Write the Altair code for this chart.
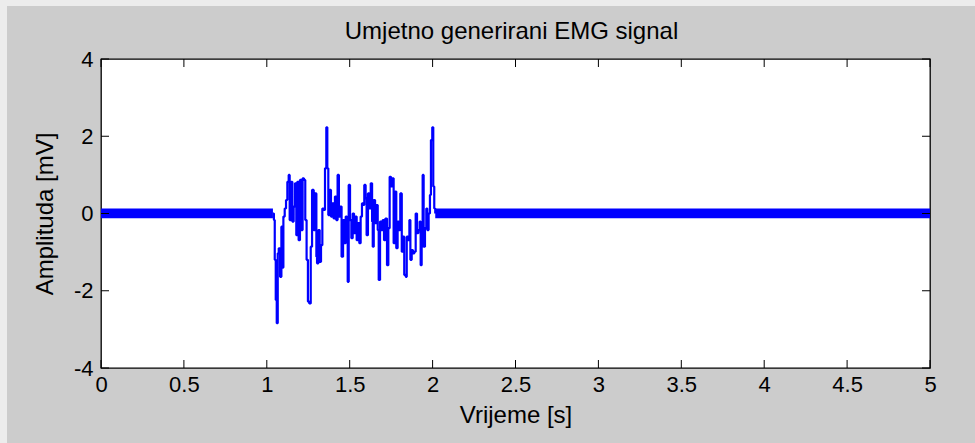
import altair as alt
import pandas as pd

# ---- data ----
title_text = "Umjetno generirani EMG signal"
x_title = "Vrijeme [s]"
y_title = "Amplituda [mV]"

x_ticks = [0, 0.5, 1, 1.5, 2, 2.5, 3, 3.5, 4, 4.5, 5]
y_ticks = [-4, -2, 0, 2, 4]

# resting (noise) segments: start, end, envelope
rest_start = [0.0, 2.016]
rest_end = [1.037, 5.0]
rest_lo = [-0.12, -0.12]
rest_hi = [0.13, 0.13]

# burst samples
burst_t = [1.037, 1.043, 1.048, 1.054, 1.060, 1.066, 1.072, 1.080, 1.088, 1.094,
           1.100, 1.108, 1.116, 1.124, 1.132, 1.138, 1.146, 1.154, 1.162, 1.170,
           1.178, 1.184, 1.192, 1.200, 1.208, 1.216, 1.224, 1.232, 1.240, 1.248,
           1.256, 1.265, 1.273, 1.283, 1.291, 1.299, 1.303, 1.311, 1.319, 1.327,
           1.335, 1.343, 1.351, 1.359, 1.365, 1.371, 1.379, 1.387, 1.395, 1.403,
           1.411, 1.419, 1.427, 1.435, 1.443, 1.451, 1.460, 1.468, 1.476, 1.484,
           1.488, 1.494, 1.502, 1.510, 1.518, 1.526, 1.534, 1.542, 1.550, 1.558,
           1.566, 1.574, 1.582, 1.588, 1.596, 1.602, 1.610, 1.618, 1.627, 1.635,
           1.639, 1.645, 1.653, 1.661, 1.669, 1.675, 1.683, 1.691, 1.699, 1.707,
           1.715, 1.725, 1.733, 1.741, 1.749, 1.757, 1.765, 1.773, 1.781, 1.789,
           1.797, 1.805, 1.814, 1.821, 1.829, 1.838, 1.844, 1.852, 1.860, 1.866,
           1.874, 1.882, 1.890, 1.898, 1.906, 1.914, 1.922, 1.928, 1.934, 1.940,
           1.946, 1.954, 1.962, 1.968, 1.976, 1.984, 1.990, 1.998, 2.004, 2.010,
           2.016]
burst_v = [0.0, -0.17, -1.2, -2.24, -2.84, -1.03, -0.9, -1.64, -0.34, -1.4,
           -0.08, 0.13, 0.35, 0.82, 1.0, -0.17, 0.82, -0.21, 0.18, 0.78,
           -0.56, 0.82, -0.69, 0.87, -0.43, 0.91, 0.87, -0.17, -1.2, -2.28,
           -2.33, -0.86, 0.61, -0.43, 0.52, -1.12, -1.29, -0.43, -1.25, -0.82,
           0.13, 0.09, 1.17, 2.23, 1.17, -0.04, 0.61, -0.08, 0.26, -0.13,
           0.44, -0.17, 1.0, -0.08, 0.18, -1.12, -0.17, -0.77, -0.08, -0.56,
           -1.77, 0.74, -0.17, -0.64, 0.0, -0.51, -0.08, -0.69, -0.25, -0.77,
           -0.08, 0.26, 0.22, 0.74, 0.39, -0.56, 0.52, 0.13, 0.78, -0.21,
           -0.86, 0.35, -0.25, 0.22, -0.43, -1.72, -0.21, -0.43, -0.17, -0.69,
           -0.13, -1.34, -0.38, 0.95, 0.70, 0.91, -0.77, 0.57, -0.90, -0.21,
           -0.43, 0.52, -0.99, -0.60, -1.59, -1.64, -0.60, -0.69, -0.17, -1.20,
           -0.95, -1.03, -0.99, 0.0, -0.51, -0.43, -0.21, -1.34, -0.86, 1.0,
           -0.86, -0.38, 0.13, -0.43, 0.0, 0.48, 1.90, 2.23, 0.70, 0.13,
           0.0]

# ---- layout ----
W, H = 829, 309
PAD = {"left": 101, "top": 59, "right": 45, "bottom": 75}
FONT = "Liberation Sans"
BLUE = "#0000ff"
TICK = 8

rest_rows = []
for i, (s, e, lo, hi) in enumerate(zip(rest_start, rest_end, rest_lo, rest_hi)):
    rest_rows.append({"seg": i, "t": s, "v": lo, "hi": hi})
    rest_rows.append({"seg": i, "t": e, "v": lo, "hi": hi})
rest_df = pd.DataFrame(rest_rows)
burst_df = pd.DataFrame({"t": burst_t, "v": burst_v})
xt_df = pd.DataFrame({"t": x_ticks})
yt_df = pd.DataFrame({"v": y_ticks})
one = pd.DataFrame({"label": [title_text]})

xscale = alt.Scale(domain=[0, 5], nice=False, zero=False)
yscale = alt.Scale(domain=[-4, 4], nice=False, zero=False)

x_axis = alt.Axis(values=x_ticks, labelExpr="'' + datum.value", ticks=False, tickSize=0,
                  domain=False, grid=False, labelFlush=False, labelOverlap=False,
                  labelFont=FONT, labelFontSize=22, labelColor="#000000", labelPadding=6,
                  title=x_title, titleFont=FONT, titleFontSize=24, titleFontWeight="normal",
                  titleColor="#000000", titlePadding=8)
y_axis = alt.Axis(values=y_ticks, labelExpr="'' + datum.value", ticks=False, tickSize=0,
                  domain=False, grid=False, labelFlush=False, labelOverlap=False,
                  labelFont=FONT, labelFontSize=22, labelColor="#000000", labelPadding=8,
                  title=y_title, titleFont=FONT, titleFontSize=24, titleFontWeight="normal",
                  titleColor="#000000", titlePadding=16)

X = alt.X("t:Q", scale=xscale, axis=x_axis, title=x_title)
Y = alt.Y("v:Q", scale=yscale, axis=y_axis, title=y_title)

rest = alt.Chart(rest_df).mark_area(color=BLUE, opacity=1).encode(
    x=X, y=Y, y2="hi:Q", detail="seg:N",
)

burst = alt.Chart(burst_df).mark_line(
    color=BLUE, strokeWidth=2.2, strokeJoin="bevel", interpolate="step-after"
).encode(x=X, y=Y)

tick_bottom = alt.Chart(xt_df).mark_rule(color="#000000", strokeWidth=1).encode(
    x=X, y=alt.value(H), y2=alt.value(H - TICK))
tick_top = alt.Chart(xt_df).mark_rule(color="#000000", strokeWidth=1).encode(
    x=X, y=alt.value(0), y2=alt.value(TICK))
tick_left = alt.Chart(yt_df).mark_rule(color="#000000", strokeWidth=1).encode(
    y=Y, x=alt.value(0), x2=alt.value(TICK))
tick_right = alt.Chart(yt_df).mark_rule(color="#000000", strokeWidth=1).encode(
    y=Y, x=alt.value(W), x2=alt.value(W - TICK))

# lighter bevel strips along the top and left figure edges
strip_top = alt.Chart(one).mark_rect(color="#ececec").encode(
    x=alt.value(-PAD["left"]), x2=alt.value(W + PAD["right"]),
    y=alt.value(-PAD["top"]), y2=alt.value(-PAD["top"] + 6))
strip_left = alt.Chart(one).mark_rect(color="#ececec").encode(
    x=alt.value(-PAD["left"]), x2=alt.value(-PAD["left"] + 7),
    y=alt.value(-PAD["top"]), y2=alt.value(H + PAD["bottom"]))

title = alt.Chart(one).mark_text(font=FONT, fontSize=24, color="#000000",
                                 align="center", baseline="alphabetic").encode(
    text="label:N", x=alt.value(W / 2 - 4), y=alt.value(-20))

chart = alt.layer(
    rest, burst, tick_bottom, tick_top, tick_left, tick_right, strip_top, strip_left, title
).properties(
    width=W, height=H, padding=PAD, autosize=alt.AutoSizeParams(type="none"),
    background="#cccccc",
).configure_view(
    fill="#ffffff", stroke="#000000", strokeWidth=1.3,
)

chart.save("out.html", embed_options={"renderer": "svg", "actions": False})
